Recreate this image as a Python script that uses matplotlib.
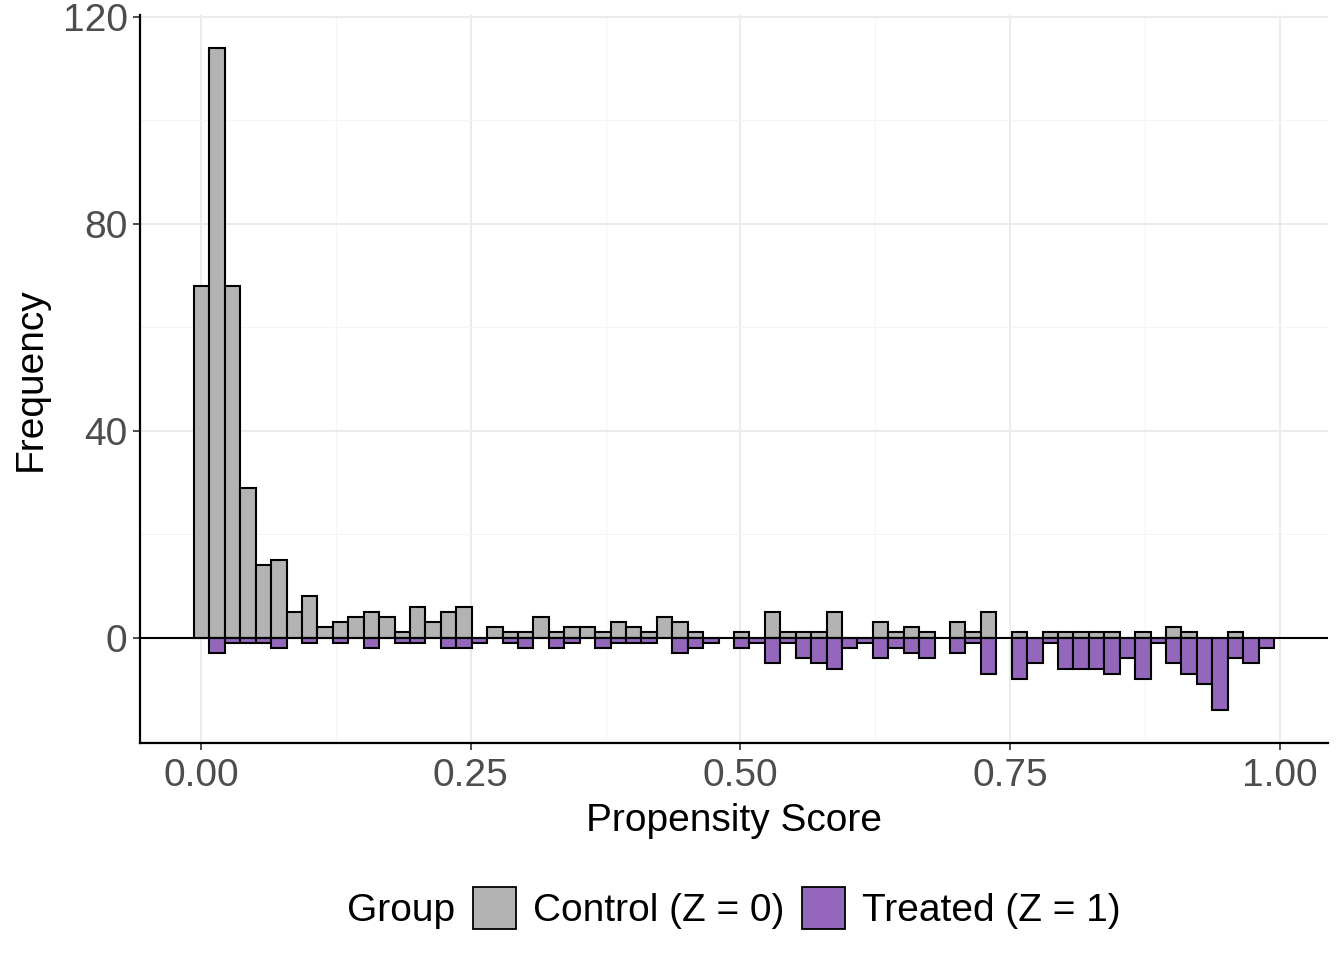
import numpy as np
import matplotlib
matplotlib.use("Agg")
import matplotlib.pyplot as plt
from matplotlib.patches import Patch
from matplotlib.ticker import MultipleLocator

plt.rcParams['font.family'] = ['Liberation Sans', 'DejaVu Sans']

# ---- data (70 bins of propensity score) ----
bin_start = -0.0065
bin_end = 0.9945
n_bins = 70
control_counts = [68, 114, 68, 29, 14, 15, 5, 8, 2, 3,
                  4, 5, 4, 1, 6, 3, 5, 6, 0, 2,
                  1, 1, 4, 1, 2, 2, 1, 3, 2, 1,
                  4, 3, 1, 0, 0, 1, 0, 5, 1, 1,
                  1, 5, 0, 0, 3, 1, 2, 1, 0, 3,
                  1, 5, 0, 1, 0, 1, 1, 1, 1, 1,
                  0, 1, 0, 2, 1, 0, 0, 1, 0, 0]
treated_counts = [0, 3, 1, 1, 1, 2, 0, 1, 0, 1,
                  0, 2, 0, 1, 1, 0, 2, 2, 1, 0,
                  1, 2, 0, 2, 1, 0, 2, 1, 1, 1,
                  0, 3, 2, 1, 0, 2, 1, 5, 1, 4,
                  5, 6, 2, 1, 4, 2, 3, 4, 0, 3,
                  1, 7, 0, 8, 5, 1, 6, 6, 6, 7,
                  4, 8, 1, 5, 7, 9, 14, 4, 5, 2]
x_ticks = [0.0, 0.25, 0.5, 0.75, 1.0]
x_tick_labels = ["0.00", "0.25", "0.50", "0.75", "1.00"]
y_ticks = [0, 40, 80, 120]
legend_title = "Group"
group_labels = ["Control (Z = 0)", "Treated (Z = 1)"]
group_colors = ["#B3B3B3", "#9467BD"]

edges = np.linspace(bin_start, bin_end, n_bins + 1)
lefts = edges[:-1]
width = edges[1] - edges[0]
control = np.array(control_counts)
treated = np.array(treated_counts)

W, H = 1344, 960
fig = plt.figure(figsize=(W / 100, H / 100), dpi=100)
ax = fig.add_axes([140/W, 1 - 743/H, (1328-140)/W, (743-15)/H])

mc = control > 0
ax.bar(lefts[mc], control[mc], width=width, align='edge', color=group_colors[0],
       edgecolor='black', linewidth=1.5, zorder=3)
mt = treated > 0
ax.bar(lefts[mt], -treated[mt], width=width, align='edge', color=group_colors[1],
       edgecolor='black', linewidth=1.5, zorder=3)
ax.axhline(0, color='black', linewidth=1.5, zorder=4)

# limits with ggplot-like 5% expansion
xr = bin_end - bin_start
ax.set_xlim(bin_start - 0.05 * xr, bin_end + 0.05 * xr)
ymin, ymax = -treated.max(), control.max()
yr = ymax - ymin
ax.set_ylim(ymin - 0.05 * yr, ymax + 0.05 * yr)

ax.set_xticks(x_ticks)
ax.set_xticklabels(x_tick_labels)
ax.set_yticks(y_ticks)
ax.xaxis.set_minor_locator(MultipleLocator(0.125))
ax.yaxis.set_minor_locator(MultipleLocator(20))
ax.grid(True, which='major', color='#EBEBEB', linewidth=1.4, zorder=0)
ax.grid(True, which='minor', color='#F5F5F5', linewidth=0.8, zorder=0)
ax.set_axisbelow(True)

for s in ['top', 'right']:
    ax.spines[s].set_visible(False)
for s in ['left', 'bottom']:
    ax.spines[s].set_color('black')
    ax.spines[s].set_linewidth(1.6)

ax.tick_params(axis='both', which='major', labelsize=28, colors='#4D4D4D',
               length=5, width=1.4, pad=4)
ax.tick_params(axis='x', which='major', pad=6)
ax.tick_params(axis='both', which='minor', length=0)

ax.set_xlabel("Propensity Score", fontsize=28, color='black', labelpad=6)
ax.set_ylabel("Frequency", fontsize=28, color='black', labelpad=10)

# ---- legend: "Group" title placed to the left of horizontal keys ----
handles = [Patch(facecolor=c, edgecolor='black', linewidth=1.3) for c in group_colors]
leg_y = 1 - 908 / H
leg = fig.legend(handles, group_labels, loc='center left', bbox_to_anchor=(0.5, leg_y),
                 ncol=2, frameon=False, fontsize=28,
                 handlelength=1.1, handleheight=1.28, handletextpad=0.45,
                 columnspacing=0.45, borderpad=0, borderaxespad=0)
gtxt = fig.text(0.5, leg_y, legend_title, fontsize=28, ha='right', va='baseline')
fig.canvas.draw()
r = fig.canvas.get_renderer()
w_leg = leg.get_window_extent(r).width
w_g = gtxt.get_window_extent(r).width
gap = 18
total = w_g + gap + w_leg
center = 734
leg_left = center - total / 2 + w_g + gap
leg.set_bbox_to_anchor((leg_left / W, leg_y), transform=fig.transFigure)
fig.canvas.draw()
# align "Group" baseline with the legend label baseline
lab = leg.get_texts()[0]
lb = lab.get_window_extent(r)
tmp = fig.text(0, 0, "Control (Z = 0)", fontsize=28, va='bottom')
tb_bottom = tmp.get_window_extent(r)
tmp2 = fig.text(0, 0, "Control (Z = 0)", fontsize=28, va='baseline')
tb_base = tmp2.get_window_extent(r)
descent = tb_base.y0 * -1 if tb_base.y0 < 0 else tb_bottom.y0 - tb_base.y0
tmp.remove()
tmp2.remove()
baseline_px = lb.y0 + descent
gtxt.set_position(((leg_left - gap) / W, baseline_px / H))

fig.savefig("out.png", dpi=100)
